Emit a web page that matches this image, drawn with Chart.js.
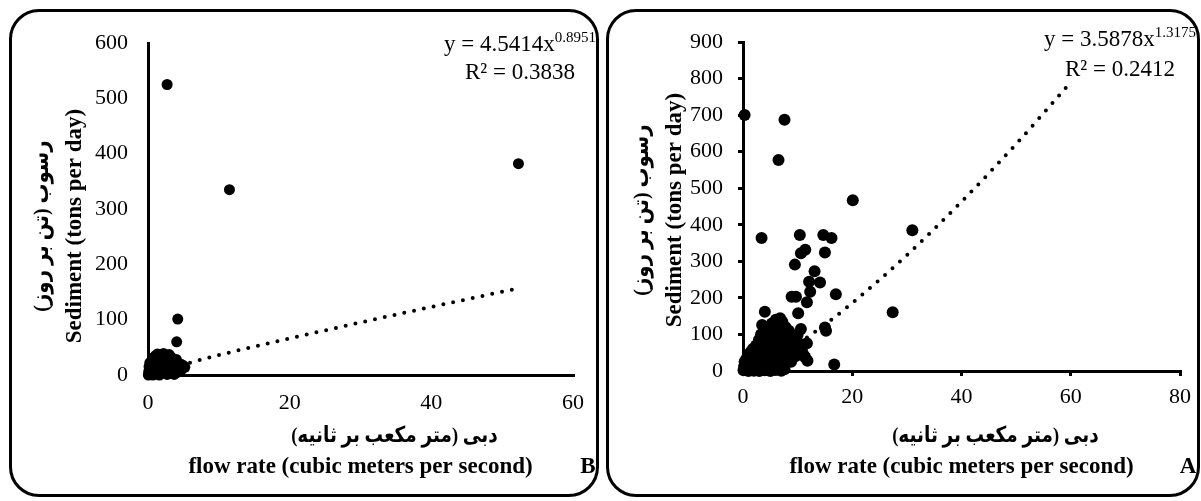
<!DOCTYPE html>
<html>
<head>
<meta charset="utf-8">
<script src="https://cdn.jsdelivr.net/npm/chart.js@4.4.1/dist/chart.umd.min.js"></script>
<style>
  html, body { margin: 0; padding: 0; background: #fff; }
  #wrap { position: relative; width: 1201px; height: 501px; overflow: hidden; }
  .frame { position: absolute; border: 3px solid #000; border-radius: 30px; box-sizing: border-box; }
  canvas { position: absolute; top: 0; }
</style>
</head>
<body>
<div id="wrap">
  <div class="frame" style="left:9px; top:9px; width:590px; height:488px;"></div>
  <div class="frame" style="left:606px; top:9px; width:594px; height:488px;"></div>
  <canvas id="chartB" width="600" height="501" style="left:0"></canvas>
  <canvas id="chartA" width="601" height="501" style="left:600px"></canvas>
</div>
<script>
'use strict';

// panel B  (flow m3/s , sediment t/day)
const flowB = [2.7, 11.5, 52.3, 4.2, 4.05, 5.2, 4.6,
  0.05, 0.1, 0.15, 0.2, 0.25, 0.3, 0.35, 0.4, 0.5, 0.55, 0.6, 0.7, 0.75, 0.8, 0.9, 1.0, 1.05, 1.1, 1.2, 1.3,
  1.35, 1.4, 1.5, 1.6, 1.65, 1.7, 1.8, 1.9, 2.0, 2.1, 2.2, 2.3, 2.4, 2.5, 2.6, 2.7, 2.8, 2.9, 3.0, 3.1,
  3.2, 3.3, 3.4, 3.5, 3.6, 3.7, 3.8, 3.9, 4.0, 4.2, 4.4, 4.7, 5.0];
const sedB = [525, 335, 382, 101, 60, 14, 20,
  0, 6, 15, 2, 22, 9, 1, 18, 4, 27, 12, 0, 31, 8, 20, 2, 35, 14, 25, 5,
  38, 17, 30, 0, 10, 37, 22, 3, 33, 13, 39, 26, 7, 35, 19, 1, 30, 11, 37, 23,
  4, 32, 16, 27, 8, 1, 21, 12, 28, 5, 15, 9, 17];
const trendFlowB = [0.5, 1, 2, 5, 10, 20, 30, 40, 52];
const trendSedB = [2.4, 4.5, 8.4, 19, 36, 66, 95, 123, 156];
const xTicksB = [0, 20, 40, 60];
const yTicksB = [0, 100, 200, 300, 400, 500, 600];

// panel A
const flowA = [0.3, 7.6, 6.5, 20.1, 3.4, 10.4, 14.7, 16.2, 31.0, 10.6, 11.4, 15.0, 9.5, 13.1, 12.1, 14.1,
  12.3, 11.7, 8.9, 9.7, 17.0, 10.1, 27.4, 4.0, 15.0, 15.2, 6.8, 10.6, 3.5, 11.7, 11.4, 16.7, 2.3,
  0.1, 0.2, 0.3, 0.5, 0.6, 0.8, 0.9, 1.0, 1.1, 1.2,
  1.3, 1.4, 1.5, 1.6, 1.7, 1.8, 1.9, 2.0,
  2.1, 2.2, 2.4, 2.5, 2.6, 2.7, 2.8, 2.9, 3.0,
  3.1, 3.2, 3.3, 3.4, 3.5, 3.6, 3.7, 3.8, 3.9, 4.0,
  4.1, 4.2, 4.3, 4.4, 4.5, 4.6, 4.7, 4.8, 4.9, 5.0,
  5.1, 5.2, 5.3, 5.4, 5.5, 5.6, 5.7, 5.8, 5.9, 6.0,
  6.1, 6.2, 6.3, 6.4, 6.5, 6.6, 6.7, 6.8, 6.9, 7.0,
  7.1, 7.2, 7.3, 7.4, 7.5, 7.6, 7.7, 7.8, 7.9, 8.0,
  8.2, 8.4, 8.6, 8.8, 9.0, 9.3, 9.6, 10.0, 10.3, 10.8, 11.2, 11.8,
  1.0, 2.0, 3.0, 4.0, 5.0, 6.0, 7.0];
const sedA = [700, 687, 577, 467, 364, 372, 372, 364, 385, 322, 332, 324, 291, 273, 244, 242,
  217, 188, 203, 203, 210, 158, 161, 162, 119, 110, 144, 115, 126, 76, 37, 18, 65,
  2, 12, 25, 5, 33, 15, 3, 28, 45, 8,
  20, 52, 3, 35, 12, 60, 25, 6,
  42, 15, 70, 30, 4, 55, 18, 85, 40,
  10, 62, 100, 28, 78, 5, 48, 115, 20, 90,
  35, 65, 8, 105, 50, 25, 80, 120, 14, 60,
  95, 38, 130, 70, 10, 110, 45, 85, 22, 140,
  58, 100, 30, 75, 125, 12, 92, 48, 115, 66,
  20, 135, 82, 40, 105, 5, 60, 120, 30, 90,
  50, 110, 70, 25, 95, 60, 40, 100, 75, 55, 42, 28,
  0, 1, 0, 2, 0, 3, 1];
const trendFlowA = [0.5, 1, 2, 5, 10, 15, 20, 30, 40, 50, 60];
const trendSedA = [1.4, 3.6, 9, 30, 75, 127, 186, 317, 463, 621, 790];
const xTicksA = [0, 20, 40, 60, 80];
const yTicksA = [0, 100, 200, 300, 400, 500, 600, 700, 800, 900];

const yTitleFa = 'رسوب (تن بر روز)';
const yTitleEn = 'Sediment (tons per day)';
const xTitleFa = 'دبی (متر مکعب بر ثانیه)';
const xTitleEn = 'flow rate (cubic meters per second)';

const serif = '"Liberation Serif", "Times New Roman", serif';

// draws equation, axis titles and panel letter
const panelText = {
  id: 'panelText',
  afterDraw(chart, args, opts) {
    const ctx = chart.ctx;
    const xs = chart.scales.x;
    const mid = (xs.left + xs.right) / 2;
    ctx.save();
    ctx.fillStyle = '#000';
    ctx.textBaseline = 'middle';

    // trendline label
    ctx.font = '23px ' + serif;
    const w1 = ctx.measureText(opts.eq).width;
    ctx.font = '15px ' + serif;
    const w2 = ctx.measureText(opts.exp).width;
    const x0 = opts.eqX - (w1 + w2) / 2;
    ctx.textAlign = 'left';
    ctx.font = '23px ' + serif;
    ctx.fillText(opts.eq, x0, opts.eqY);
    ctx.font = '15px ' + serif;
    ctx.fillText(opts.exp, x0 + w1, opts.eqY - 7);
    ctx.textAlign = 'center';
    ctx.font = '23px ' + serif;
    ctx.fillText(opts.r2, opts.eqX, opts.r2Y);

    // x titles
    ctx.font = 'bold 23px ' + serif;
    ctx.fillText(xTitleEn, mid, 467);
    ctx.fillText(opts.letter, 588, 467);

    ctx.direction = 'rtl';
    ctx.font = 'bold 22px ' + serif + ', "DejaVu Sans"';
    ctx.save();
    ctx.translate(mid + 34, 436);
    ctx.scale(0.84, 1);
    ctx.fillText(xTitleFa, 0, 0);
    ctx.restore();

    // y titles, rotated
    ctx.translate(0, opts.yTitleY);
    ctx.rotate(-Math.PI / 2);
    ctx.save();
    ctx.scale(0.9, 1);
    ctx.fillText(yTitleFa, 0, 42);
    ctx.restore();
    ctx.direction = 'ltr';
    ctx.font = 'bold 23px ' + serif;
    ctx.fillText(yTitleEn, 0, 75);
    ctx.restore();
  }
};

function toPoints(xs, ys) {
  return xs.map((x, i) => ({x: x, y: ys[i]}));
}

function makePanel(id, p) {
  const tickFont = {family: serif, size: 22};
  return new Chart(document.getElementById(id), {
    type: 'scatter',
    data: {
      datasets: [{
        label: 'trend',
        data: toPoints(p.trendX, p.trendY),
        showLine: true,
        pointRadius: 0,
        borderColor: '#000',
        borderWidth: 4,
        borderDash: [0, 10],
        borderCapStyle: 'round',
        cubicInterpolationMode: 'monotone',
        clip: false,
        order: 0
      }, {
        label: 'data',
        data: toPoints(p.x, p.y),
        pointRadius: p.r,
        pointBackgroundColor: '#000',
        pointBorderWidth: 0,
        clip: false,
        order: 1
      }]
    },
    options: {
      responsive: false,
      animation: false,
      devicePixelRatio: 1,
      layout: {padding: {left: 0, top: p.top, right: p.right, bottom: 0}},
      plugins: {
        legend: {display: false},
        tooltip: {enabled: false},
        panelText: p.text
      },
      scales: {
        x: {
          type: 'linear',
          min: p.xTicks[0],
          max: p.xTicks[p.xTicks.length - 1],
          afterBuildTicks: s => { s.ticks = p.xTicks.map(v => ({value: v})); },
          afterFit: s => { s.height = 501 - p.bottom; },
          grid: {display: p.marks, drawOnChartArea: false, drawTicks: p.marks, tickLength: 5, lineWidth: 3, color: '#000'},
          border: {display: true, width: 3, color: '#000'},
          ticks: {font: tickFont, color: '#000', padding: p.xPad, maxRotation: 0}
        },
        y: {
          type: 'linear',
          min: p.yTicks[0],
          max: p.yTicks[p.yTicks.length - 1],
          afterBuildTicks: s => { s.ticks = p.yTicks.map(v => ({value: v})); },
          afterFit: s => { s.width = p.left; },
          grid: {display: p.marks, drawOnChartArea: false, drawTicks: p.marks, tickLength: 5, lineWidth: 3, color: '#000'},
          border: {display: true, width: 3, color: '#000'},
          ticks: {font: tickFont, color: '#000', padding: p.yPad}
        }
      }
    },
    plugins: [panelText]
  });
}

makePanel('chartB', {
  x: flowB, y: sedB, trendX: trendFlowB, trendY: trendSedB,
  xTicks: xTicksB, yTicks: yTicksB, r: 5.5, marks: false,
  left: 148, top: 43, right: 27, bottom: 375, xPad: 15, yPad: 20,
  text: {eq: 'y = 4.5414x', exp: '0.8951', r2: 'R² = 0.3838', eqX: 520, eqY: 45, r2Y: 73, letter: 'B', yTitleY: 226}
});

makePanel('chartA', {
  x: flowA, y: sedA, trendX: trendFlowA, trendY: trendSedA,
  xTicks: xTicksA, yTicks: yTicksA, r: 6, marks: true,
  left: 143, top: 42, right: 21, bottom: 371, xPad: 8, yPad: 15,
  text: {eq: 'y = 3.5878x', exp: '1.3175', r2: 'R² = 0.2412', eqX: 520, eqY: 40, r2Y: 70, letter: 'A', yTitleY: 210}
});
</script>
</body>
</html>
